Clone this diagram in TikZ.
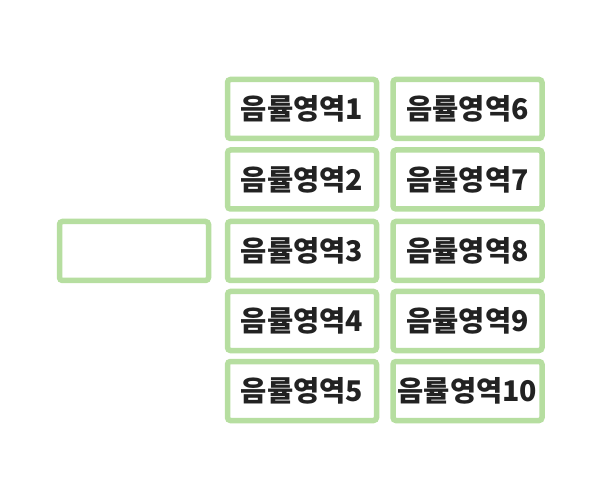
\documentclass[tikz,border=0pt]{standalone}
\usepackage{fontspec}
\newfontfamily\cjk{Noto Sans CJK KR}
\usepackage{tikz}
\definecolor{boxgreen}{HTML}{B6DEA0}
\definecolor{textdark}{HTML}{222222}
\tikzset{
  region/.style={rectangle, draw=boxgreen, line width=5.5pt, rounded corners=3pt,
    minimum width=149pt, minimum height=59pt, inner sep=0pt, fill=white,
    font=\cjk\bfseries\fontsize{28.5}{28.5}\selectfont, text=textdark}
}
\begin{document}
\begin{tikzpicture}[x=1pt, y=-1pt]
	\useasboundingbox (0,0) rectangle (602,502);

	\node[region](R0) at (134,251) {};

	\node[region](R1) at (302,109) {음률영역1};
	\node[region](R2) at (302,179.5) {음률영역2};
	\node[region](R3) at (302,251) {음률영역3};
	\node[region](R4) at (302,321) {음률영역4};
	\node[region](R5) at (302,391) {음률영역5};

	\node[region](R6) at (467.5,109) {음률영역6};
	\node[region](R7) at (467.5,179.5) {음률영역7};
	\node[region](R8) at (467.5,251) {음률영역8};
	\node[region](R9) at (467.5,321) {음률영역9};
	\node[region](R10) at (467.5,391) {음률영역10};
\end{tikzpicture}
\end{document}
